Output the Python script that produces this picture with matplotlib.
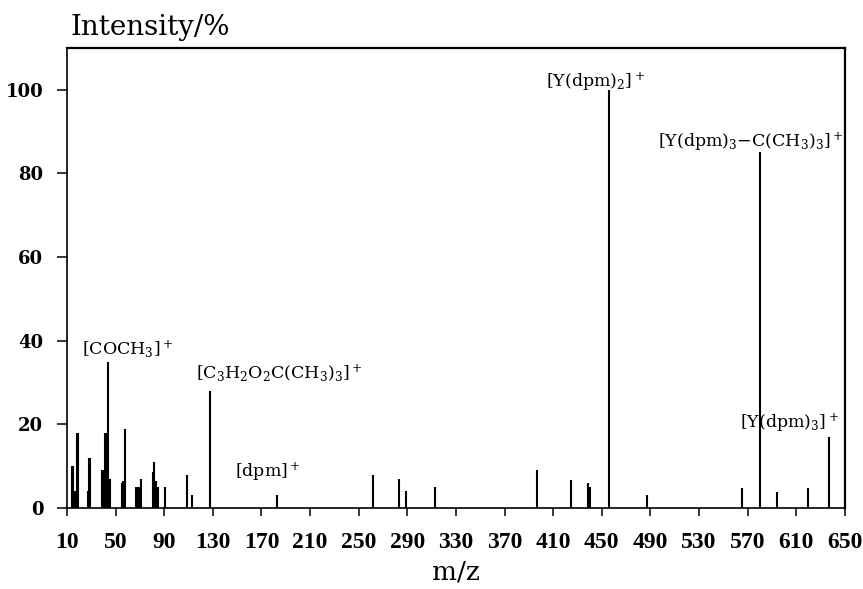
import numpy as np
import matplotlib.pyplot as plt

plt.rcParams['font.family'] = 'DejaVu Serif'
plt.rcParams['mathtext.fontset'] = 'dejavuserif'

# peak positions (m/z) and relative intensities (%)
mz = [14, 15, 17, 18, 19, 27, 28, 29, 39, 40, 41, 42, 44, 45,
      55, 56, 58, 67, 68, 69, 70, 71, 81, 82, 83, 84, 85, 91,
      109, 113, 128, 183, 262, 283, 289, 313, 397, 425, 439, 440,
      456, 487, 565, 580, 594, 620, 637]
intensity = [10, 10, 4, 18, 18, 4, 12, 12, 9, 9, 18, 18, 35, 7,
             6, 6.5, 19, 5, 5, 5, 5, 7, 8.5, 11, 6.5, 5, 5, 5,
             8, 3, 28, 3, 8, 7, 4, 5, 9, 6.8, 6, 5,
             100, 3, 4.8, 85, 3.8, 4.8, 17]

# fragment labels: text, m/z of left edge, intensity of baseline
ion_labels = [r'[COCH$_3$]$^+$',
              r'[C$_3$H$_2$O$_2$C(CH$_3$)$_3$]$^+$',
              r'[dpm]$^+$',
              r'[Y(dpm)$_2$]$^+$',
              r'[Y(dpm)$_3$$-$C(CH$_3$)$_3$]$^+$',
              r'[Y(dpm)$_3$]$^+$']
label_x = [22.5, 116.5, 148, 404, 496, 563.5]
label_y = [36.5, 31, 7.6, 100.7, 86.4, 19.3]

xticks = np.arange(10, 651, 40)
yticks = np.arange(0, 101, 20)

fig = plt.figure(figsize=(8.63, 5.89), dpi=100)
ax = fig.add_axes([0.0776, 0.1375, 0.9015, 0.7815])

ax.vlines(mz, 0, intensity, color='black', lw=1.5)

for txt, x, y in zip(ion_labels, label_x, label_y):
    ax.text(x, y, txt, ha='left', va='baseline', fontsize=12.5)

ax.set_xlim(10, 650)
ax.set_ylim(0, 110)
ax.set_xticks(xticks)
ax.set_yticks(yticks)
ax.tick_params(axis='x', direction='out', length=6, width=1.1, pad=11)
ax.tick_params(axis='y', direction='out', length=7, width=1.1, pad=10)
for lab in ax.get_xticklabels():
    lab.set_fontfamily('Liberation Serif')
    lab.set_fontweight('bold')
    lab.set_fontsize(17)
for lab in ax.get_yticklabels():
    lab.set_fontweight('bold')
    lab.set_fontsize(13)

for side in ['left', 'bottom']:
    ax.spines[side].set_linewidth(1.2)
for side in ['top', 'right']:
    ax.spines[side].set_linewidth(1.6)

ax.set_xlabel('m/z', fontsize=19, labelpad=5)
fig.text(0.082, 0.9406, 'Intensity/%', fontsize=20, va='baseline')

fig.savefig('out.png', dpi=100)
